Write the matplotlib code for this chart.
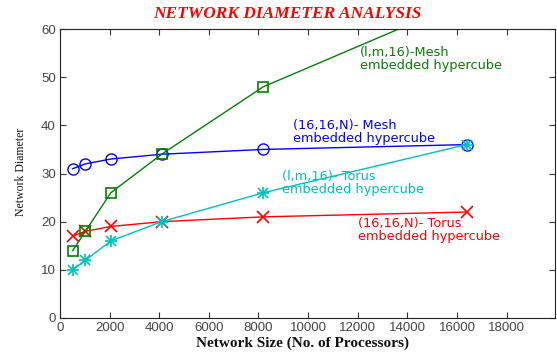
import matplotlib
matplotlib.use("Agg")
import matplotlib.pyplot as plt

sizes = [512, 1024, 2048, 4096, 8192, 16384]
mesh_16_16_N = [31, 32, 33, 34, 35, 36]
torus_16_16_N = [17, 18, 19, 20, 21, 22]
mesh_l_m_16 = [14, 18, 26, 34, 48, 66]
torus_l_m_16 = [10, 12, 16, 20, 26, 36]
xticks = [0, 2000, 4000, 6000, 8000, 10000, 12000, 14000, 16000, 18000]
yticks = [0, 10, 20, 30, 40, 50, 60]

fig = plt.figure(figsize=(5.57, 3.52), dpi=100)
ax = fig.add_axes([0.1077, 0.0966, 0.8887, 0.821])

blue = '#0000ff'
green = '#008000'
red = '#ff0000'
cyan = '#00bfbf'

ax.plot(sizes, mesh_16_16_N, color=blue, lw=1, marker='o', ms=8, mfc='none', mec=blue, mew=1)
ax.plot(sizes, torus_16_16_N, color=red, lw=1, marker='x', ms=8, mew=1.2)
ax.plot(sizes, mesh_l_m_16, color=green, lw=1, marker='s', ms=6.5, mfc='none', mec=green, mew=1.2)
ax.plot(sizes, torus_l_m_16, color=cyan, lw=1, marker='+', ms=9, mew=1.2)
ax.plot(sizes, torus_l_m_16, color=cyan, lw=0, marker='x', ms=6.5, mew=1.2)

ax.set_xlim(0, 19950)
ax.set_ylim(0, 60)
ax.set_xticks(xticks)
ax.set_yticks(yticks)
ax.tick_params(direction='in', top=True, right=True, length=4, width=0.8,
               labelsize=9.5, colors='#333333', pad=3)
for lab in ax.get_xticklabels() + ax.get_yticklabels():
    lab.set_family('Liberation Sans')
    lab.set_color('#444444')
for s in ax.spines.values():
    s.set_linewidth(0.8)
    s.set_color('#222222')

tf = dict(fontsize=9.3, family='DejaVu Sans', linespacing=1.0, va='center', ha='left')
ax.text(12100, 53.8, '(l,m,16)-Mesh\nembedded hypercube', color=green, **tf)
ax.text(9400, 38.6, '(16,16,N)- Mesh\nembedded hypercube', color=blue, **tf)
ax.text(8950, 28.1, '(l,m,16)- Torus\nembedded hypercube', color=cyan, **tf)
ax.text(12000, 18.3, '(16,16,N)- Torus\nembedded hypercube', color=red, **tf)

fig.text(287/557, 1 - 14/352, 'NETWORK DIAMETER ANALYSIS', color=red, fontsize=12.5,
         fontweight='bold', fontstyle='italic', family='Liberation Serif', ha='center', va='center')
fig.text(21/557, 1 - 172/352, 'Network Diameter', rotation=90, fontsize=8.5,
         family='Liberation Serif', ha='center', va='center', color='#111111')
fig.text(303/557, 1 - 343/352, 'Network Size (No. of Processors)', fontsize=11,
         fontweight='bold', family='Liberation Serif', ha='center', va='center', color='#111111')

fig.savefig('out.png', dpi=100)
